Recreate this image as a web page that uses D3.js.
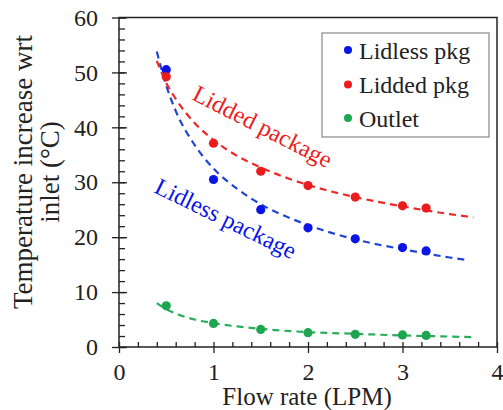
<!DOCTYPE html>
<html>
<head>
<meta charset="utf-8">
<script src="https://cdn.jsdelivr.net/npm/d3@7"></script>
<style>
  html, body { margin: 0; padding: 0; background: #fff; }
  svg text { font-family: "Liberation Serif", "Times New Roman", serif; fill: #222; }
</style>
</head>
<body>
<svg id="chart" width="503" height="410"></svg>
<script>
// Measured flow rates (LPM)
const flowRates = [0.5, 1, 1.5, 2, 2.5, 3, 3.25];
// Temperature rise above inlet (°C)
const lidless = [50.5, 30.5, 25.0, 21.7, 19.7, 18.1, 17.5];
const lidded  = [49.2, 37.1, 32.0, 29.4, 27.3, 25.7, 25.3];
const outlet  = [7.5, 4.3, 3.2, 2.6, 2.3, 2.2, 2.1];

// Trend-line samples (dashed fits)
const fitX        = [0.4, 0.5, 0.6, 0.8, 1, 1.25, 1.5, 2, 2.5, 3, 3.5, 3.75];
const lidlessFitX = [0.4, 0.5, 0.6, 0.8, 1, 1.25, 1.5, 2, 2.5, 3, 3.5, 3.7];
const lidlessFit  = [53.8, 47.6, 43.0, 36.8, 32.5, 28.8, 26.0, 22.2, 19.6, 17.8, 16.3, 15.8];
const liddedFit   = [52.1, 48.1, 45.2, 40.8, 37.7, 34.8, 32.7, 29.5, 27.3, 25.6, 24.2, 23.6];
const outletFit   = [8.0, 6.9, 6.1, 5.0, 4.35, 3.75, 3.3, 2.7, 2.4, 2.1, 1.9, 1.8];

// Axis ticks
const xMajor = [0, 1, 2, 3, 4];
const xMinor = d3.range(0, 4.0001, 0.2);
const yMajor = [0, 10, 20, 30, 40, 50, 60];
const yMinor = d3.range(0, 60.001, 2);

const legendLabels = ["Lidless pkg", "Lidded pkg", "Outlet"];
const colors = { lidless: "#0a14e6", lidded: "#ec1c1c", outlet: "#1ea552" };
const fitColors = { lidless: "#2145d0", lidded: "#ea2a2a", outlet: "#2aae5c" };

const svg = d3.select("#chart");
const x = d3.scaleLinear().domain([0, 4]).range([119, 497]);
const y = d3.scaleLinear().domain([0, 60]).range([347, 17.5]);

// Plot frame
svg.append("rect")
  .attr("x", x(0)).attr("y", y(60))
  .attr("width", x(4) - x(0)).attr("height", y(0) - y(60))
  .attr("fill", "none").attr("stroke", "#222").attr("stroke-width", 1.5);

function styleAxis(g) {
  g.select(".domain").remove();
  g.selectAll("line").attr("stroke", "#222").attr("stroke-width", 1.3);
}

// Left axis: major ticks crossing the spine, minor ticks inside
svg.append("g").attr("transform", `translate(${x(0)},0)`)
  .call(d3.axisLeft(y).tickValues(yMajor).tickSize(7).tickPadding(14).tickFormat(d3.format("d")))
  .call(styleAxis)
  .call(g => g.selectAll("text").attr("font-size", 24).attr("fill", "#222")
    .attr("font-family", '"Liberation Serif", "Times New Roman", serif'));
svg.append("g").attr("transform", `translate(${x(0)},0)`)
  .call(d3.axisRight(y).tickValues(yMajor).tickSize(8).tickFormat(""))
  .call(styleAxis);
svg.append("g").attr("transform", `translate(${x(0)},0)`)
  .call(d3.axisRight(y).tickValues(yMinor).tickSize(6).tickFormat(""))
  .call(styleAxis);

// Bottom axis
svg.append("g").attr("transform", `translate(0,${y(0)})`)
  .call(d3.axisBottom(x).tickValues(xMajor).tickSize(6).tickPadding(10).tickFormat(d3.format("d")))
  .call(styleAxis)
  .call(g => g.selectAll("text").attr("font-size", 24).attr("fill", "#222")
    .attr("font-family", '"Liberation Serif", "Times New Roman", serif'));
svg.append("g").attr("transform", `translate(0,${y(0)})`)
  .call(d3.axisTop(x).tickValues(xMinor).tickSize(5).tickFormat(""))
  .call(styleAxis);

// Axis titles
svg.append("text")
  .attr("x", 307).attr("y", 404.5)
  .attr("text-anchor", "middle").attr("font-size", 25)
  .text("Flow rate (LPM)");

const yTitle = svg.append("text")
  .attr("transform", "translate(0,172) rotate(-90)")
  .attr("text-anchor", "middle").attr("font-size", 27);
yTitle.append("tspan").attr("x", 0).attr("y", 32).text("Temperature increase wrt");
yTitle.append("tspan").attr("x", 0).attr("y", 59).text("inlet (°C)");

// Dashed trend lines
const series = [
  { key: "lidless", fx: lidlessFitX, fy: lidlessFit, vals: lidless },
  { key: "lidded",  fx: fitX,        fy: liddedFit,  vals: lidded },
  { key: "outlet",  fx: fitX,        fy: outletFit,  vals: outlet }
];
const line = d3.line().x(d => x(d[0])).y(d => y(d[1])).curve(d3.curveMonotoneX);
series.forEach(s => {
  svg.append("path")
    .datum(s.fx.map((v, i) => [v, s.fy[i]]))
    .attr("d", line)
    .attr("fill", "none")
    .attr("stroke", fitColors[s.key])
    .attr("stroke-width", 2.2)
    .attr("stroke-dasharray", "7,5");
});

// Data points (outlet first so package markers sit on top)
[series[2], series[0], series[1]].forEach(s => {
  svg.append("g").selectAll("circle")
    .data(flowRates.map((f, i) => [f, s.vals[i]]))
    .join("circle")
    .attr("cx", d => x(d[0])).attr("cy", d => y(d[1]))
    .attr("r", 4.6).attr("fill", colors[s.key]);
});

// Curve annotations
svg.append("text")
  .attr("transform", "translate(191,99) rotate(27)")
  .attr("font-size", 24).style("fill", colors.lidded)
  .text("Lidded package");
svg.append("text")
  .attr("transform", "translate(153,192) rotate(26)")
  .attr("font-size", 24).style("fill", colors.lidless)
  .text("Lidless package");

// Legend
const legend = svg.append("g");
legend.append("rect")
  .attr("x", 322).attr("y", 33).attr("width", 167).attr("height", 104)
  .attr("fill", "#fff").attr("stroke", "#888").attr("stroke-width", 1.2);
const legendKeys = ["lidless", "lidded", "outlet"];
const legendRows = d3.scaleOrdinal().domain(legendKeys).range([50, 84.5, 118]);
legendKeys.forEach((k, i) => {
  legend.append("circle")
    .attr("cx", 348).attr("cy", legendRows(k)).attr("r", 4).attr("fill", colors[k]);
  legend.append("text")
    .attr("x", 359).attr("y", legendRows(k) + 8.5)
    .attr("font-size", 24)
    .text(legendLabels[i]);
});
</script>
</body>
</html>
